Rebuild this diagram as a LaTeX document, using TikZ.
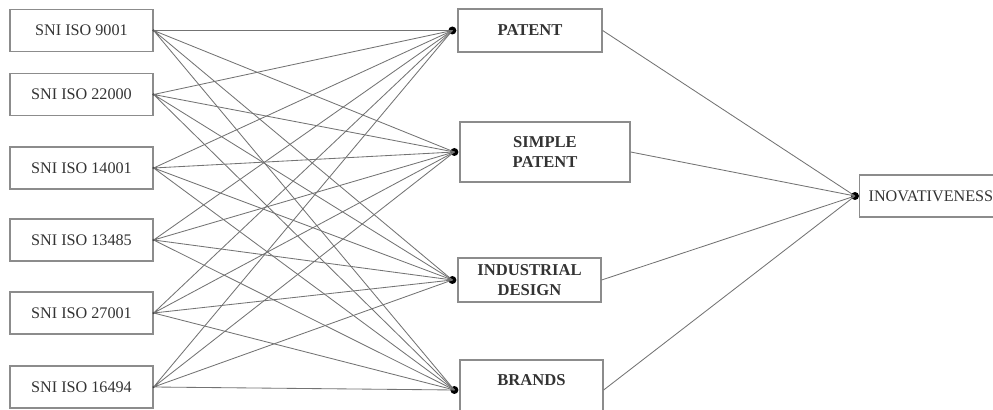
\documentclass[tikz,border=0pt]{standalone}
\usepackage{fontspec}
\setmainfont{Liberation Serif}

\begin{document}
\begin{tikzpicture}[
  box/.style={draw=black!45, line width=0.9pt, minimum width=3.575cm, minimum height=1.05cm,
    text=black!80, font=\fontsize{11.5}{13}\selectfont},
  bbox/.style={box, align=center, font=\fontsize{11.8}{14.2}\selectfont\bfseries},
  link/.style={draw=black!55, line width=0.6pt},
  dot/.style={circle, fill=black, inner sep=0pt, minimum size=0.2cm},
  sdot/.style={circle, fill=black!80, inner sep=0pt, minimum size=0.06cm}
]
\useasboundingbox (0,0) rectangle (24.825,10.25);
\clip (0,0) rectangle (24.825,10.25);

% standards
\node[box] (iso9001)  at (2.0375, 9.4875) {SNI ISO 9001};
\node[box] (iso22000) at (2.0375, 7.8875) {SNI ISO 22000};
\node[box] (iso14001) at (2.0375, 6.05)   {SNI ISO 14001};
\node[box] (iso13485) at (2.0375, 4.25)   {SNI ISO 13485};
\node[box] (iso27001) at (2.0375, 2.425)  {SNI ISO 27001};
\node[box] (iso16494) at (2.0375, 0.575)  {SNI ISO 16494};

% intellectual property
\node[bbox, minimum width=3.6cm, minimum height=1.075cm] (patent) at (13.25, 9.4875) {PATENT};
\node[bbox, minimum width=4.25cm, minimum height=1.5cm] (simple) at (13.625, 6.45) {SIMPLE\\PATENT};
\node[bbox, minimum height=1.1cm] (design) at (13.2375, 3.25) {INDUSTRIAL\\DESIGN};
\node[bbox, minimum height=1.5cm] (brands) at (13.2875, 0.5) {BRANDS\\~};

\node[box, minimum width=0cm, inner xsep=0.225cm, anchor=west] (inov) at (21.475, 5.35) {INOVATIVENESS};

% entry dots
\node[dot] (patentin) at ([xshift=-0.125cm]patent.west) {};
\node[dot] (simplein) at ([xshift=-0.125cm]simple.west) {};
\node[dot] (designin) at ([xshift=-0.125cm]design.west) {};
\node[dot] (brandsin) at ([xshift=-0.125cm]brands.west) {};
\node[dot] (inovin)   at ([xshift=-0.1cm]inov.west) {};

\foreach \s in {iso9001,iso22000,iso14001,iso13485,iso27001,iso16494}
  \node[sdot] at (\s.east) {};

\draw[link]
     (iso9001.east) -- (patentin.center) (iso9001.east) -- (simplein.center)
     (iso9001.east) -- (designin.center) (iso9001.east) -- (brandsin.center);
\draw[link]
     (iso22000.east) -- (patentin.center) (iso22000.east) -- (simplein.center)
     (iso22000.east) -- (designin.center) (iso22000.east) -- (brandsin.center);
\draw[link]
     (iso14001.east) -- (patentin.center) (iso14001.east) -- (simplein.center)
     (iso14001.east) -- (designin.center) (iso14001.east) -- (brandsin.center);
\draw[link]
     (iso13485.east) -- (patentin.center) (iso13485.east) -- (simplein.center)
     (iso13485.east) -- (designin.center) (iso13485.east) -- (brandsin.center);
\draw[link]
     (iso27001.east) -- (patentin.center) (iso27001.east) -- (simplein.center)
     (iso27001.east) -- (designin.center) (iso27001.east) -- (brandsin.center);
\draw[link]
     (iso16494.east) -- (patentin.center) (iso16494.east) -- (simplein.center)
     (iso16494.east) -- (designin.center) (iso16494.east) -- (brandsin.center);

\draw[link]
     (patent.east) -- (inovin.center)
     (simple.east) -- (inovin.center)
     (design.east) -- (inovin.center)
     (brands.east) -- (inovin.center);
\end{tikzpicture}
\end{document}
